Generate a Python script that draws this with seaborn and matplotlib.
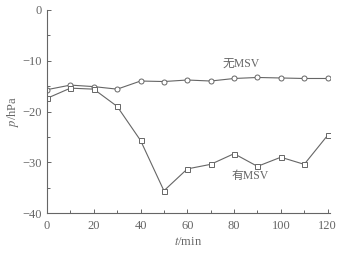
import matplotlib
matplotlib.use("Agg")
import matplotlib.pyplot as plt
import seaborn as sns
import pandas as pd
from matplotlib.ticker import MultipleLocator

t_min = [0, 10, 20, 30, 40, 50, 60, 70, 80, 90, 100, 110, 120]
p_no_msv = [-15.7, -14.8, -15.1, -15.6, -14.0, -14.1, -13.8, -14.0, -13.5, -13.3, -13.4, -13.5, -13.5]
p_msv = [-17.4, -15.4, -15.6, -19.0, -25.7, -35.6, -31.3, -30.4, -28.3, -30.8, -29.0, -30.4, -24.7]

df = pd.DataFrame({"t": t_min + t_min,
                   "p": p_no_msv + p_msv,
                   "case": ["无MSV"] * len(t_min) + ["有MSV"] * len(t_min)})

sns.set_style("ticks")
plt.rcParams["font.family"] = ["Liberation Serif", "Noto Sans CJK SC"]
plt.rcParams["mathtext.fontset"] = "stix"

ink = "#666666"
fig = plt.figure(figsize=(3.51, 2.54), dpi=100)
ax = fig.add_axes([0.134, 0.161, 0.806, 0.8])

sns.lineplot(data=df, x="t", y="p", hue="case", style="case",
             markers={"无MSV": "o", "有MSV": "s"}, dashes=False,
             palette={"无MSV": ink, "有MSV": ink}, linewidth=0.8,
             markersize=3.6, markerfacecolor="white", markeredgecolor=ink,
             markeredgewidth=0.7, legend=False, ax=ax)

ax.set_xlim(0, 121)
ax.set_ylim(-40, 0)
ax.xaxis.set_major_locator(MultipleLocator(20))
ax.xaxis.set_minor_locator(MultipleLocator(10))
ax.yaxis.set_major_locator(MultipleLocator(10))
ax.yaxis.set_minor_locator(MultipleLocator(5))
ax.tick_params(which="both", direction="in", color=ink, labelcolor=ink,
               labelsize=9, width=0.7)
ax.tick_params(which="major", length=3)
ax.tick_params(which="minor", length=2)
ax.tick_params(axis="x", pad=5)
for s in ["left", "bottom"]:
    ax.spines[s].set_color(ink)
    ax.spines[s].set_linewidth(0.8)
sns.despine(ax=ax)

ax.set_xlabel("$t$/min", color=ink, fontsize=9, labelpad=3)
ax.set_ylabel("$p$/hPa", color=ink, fontsize=9, labelpad=1)

ax.text(83, -10.6, "无MSV", color=ink, fontsize=8.5, ha="center", va="center")
ax.text(87, -32.7, "有MSV", color=ink, fontsize=8.5, ha="center", va="center")

fig.savefig("out.png", dpi=100)
